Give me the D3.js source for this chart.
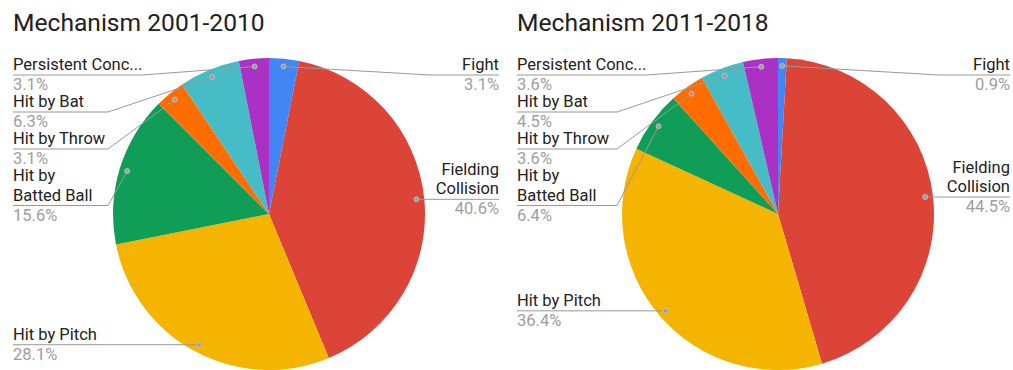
<!DOCTYPE html>
<html>
<head>
<meta charset="utf-8">
<script src="https://cdn.jsdelivr.net/npm/d3@7"></script>
<style>
  html, body { margin: 0; padding: 0; background: #fff; }
  svg { display: block; font-family: Roboto, "Noto Sans", sans-serif; }
</style>
</head>
<body>
<svg id="chart" width="1013" height="370"></svg>
<script>
// Concussion mechanisms, share of cases (%) per period
const categories = ["Fight", "Fielding Collision", "Hit by Pitch", "Hit by Batted Ball",
                    "Hit by Throw", "Hit by Bat", "Persistent Concussion"];
const labelLines = [["Fight"], ["Fielding", "Collision"], ["Hit by Pitch"], ["Hit by", "Batted Ball"],
                    ["Hit by Throw"], ["Hit by Bat"], ["Persistent Conc..."]];
const values2001_2010 = [3.1, 40.6, 28.1, 15.6, 3.1, 6.3, 3.1];
const values2011_2018 = [0.9, 44.5, 36.4, 6.4, 3.6, 4.5, 3.6];
const titles = ["Mechanism 2001-2010", "Mechanism 2011-2018"];
const sliceColors = ["#4285f4", "#db4437", "#f4b400", "#0f9d58", "#ff6d00", "#46bdc6", "#ab30c4"];

// layout
const W = 1013, H = 370;
const cy = 214, radius = 156;
const panels = [
  { title: titles[0], values: values2001_2010, left: 13, right: 499, cx: 269 },
  { title: titles[1], values: values2011_2018, left: 517, right: 1010, cx: 778 }
];
const LH = 19.5, UL_GAP = 5, VAL_GAP = 15, BLOCK_GAP = 17, MIN_FIRST = 70;
const FONT = 16.5;

const svg = d3.select("#chart");
svg.append("rect").attr("width", W).attr("height", H).attr("fill", "#fff");

const pie = d3.pie().sort(null).value(d => d.value);
const arc = d3.arc().innerRadius(0).outerRadius(radius);
const fmt = v => v.toFixed(1) + "%";

panels.forEach(p => {
  const g = svg.append("g");

  g.append("text")
    .attr("x", p.left).attr("y", 31)
    .attr("font-size", 24.6).attr("fill", "#212121")
    .text(p.title);

  const data = categories.map((c, i) => ({
    name: c, lines: labelLines[i], value: p.values[i], color: sliceColors[i]
  }));
  const arcs = pie(data);

  g.append("g")
    .attr("transform", `translate(${p.cx},${cy})`)
    .selectAll("path").data(arcs).join("path")
    .attr("d", arc)
    .attr("fill", d => d.data.color);

  const dotR = radius * 0.95;
  arcs.forEach(a => {
    const m = (a.startAngle + a.endAngle) / 2;
    a.dot = [p.cx + dotR * Math.sin(m), cy - dotR * Math.cos(m)];
    a.side = m < Math.PI ? "right" : "left";
  });

  const lineG = g.append("g");
  const dotG = g.append("g");
  const textG = g.append("g");

  ["left", "right"].forEach(side => {
    const items = arcs.filter(a => a.side === side).sort((a, b) => a.dot[1] - b.dot[1]);
    let prevBottom = -Infinity;
    items.forEach(a => {
      const n = a.data.lines.length;
      let first = a.dot[1] - UL_GAP - (n - 1) * LH;
      first = Math.max(first, MIN_FIRST, prevBottom + BLOCK_GAP);
      const underline = first + (n - 1) * LH + UL_GAP;
      const valueBase = underline + VAL_GAP;
      prevBottom = valueBase;

      const tx = side === "left" ? p.left : p.right;
      const anchor = side === "left" ? "start" : "end";
      let maxW = 0;
      a.data.lines.forEach((ln, k) => {
        const t = textG.append("text")
          .attr("x", tx).attr("y", first + k * LH)
          .attr("font-size", FONT).attr("fill", "#222")
          .attr("text-anchor", anchor)
          .text(ln);
        maxW = Math.max(maxW, t.node().getComputedTextLength());
      });
      textG.append("text")
        .attr("x", tx).attr("y", valueBase)
        .attr("font-size", FONT).attr("fill", "#9e9e9e")
        .attr("text-anchor", anchor)
        .text(fmt(a.data.value));

      let kink;
      if (side === "left") {
        kink = Math.max(p.left + maxW, p.cx - radius - 5);
        kink = Math.min(kink, a.dot[0]);
      } else {
        kink = Math.min(p.right - maxW - 8, p.cx + radius + 5);
        kink = Math.max(kink, a.dot[0]);
      }
      lineG.append("path")
        .attr("d", d3.line()([[tx, underline], [kink, underline], a.dot]))
        .attr("fill", "none").attr("stroke", "#999").attr("stroke-width", 1);
      dotG.append("circle")
        .attr("cx", a.dot[0]).attr("cy", a.dot[1]).attr("r", 2.5)
        .attr("fill", "#9e9e9e").attr("stroke", "#c8c8c8").attr("stroke-width", 0.8);
    });
  });
});
</script>
</body>
</html>
